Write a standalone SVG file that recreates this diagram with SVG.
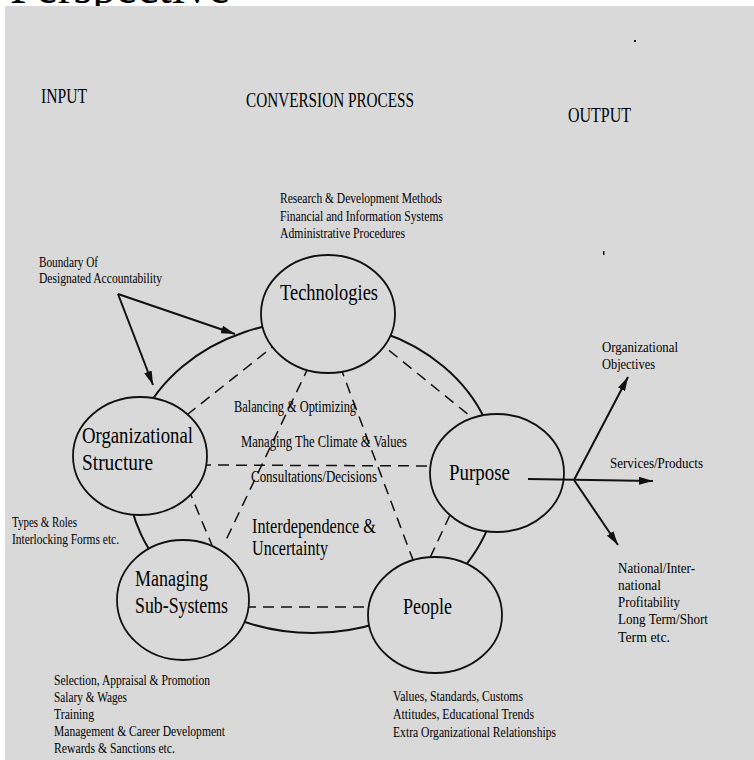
<svg xmlns="http://www.w3.org/2000/svg" width="754" height="760" viewBox="0 0 754 760">
<style>
  .bg{fill:#d9d9d9}
  .t{font-family:"Liberation Serif","DejaVu Serif",serif;fill:#000}
  .lbl{font-size:14px}
  .mid{font-size:16px}
  .big{font-size:20px}
  .node{font-size:23px}
  .hdr{font-size:21px}
  .nodeshape{fill:#d9d9d9;stroke:#111;stroke-width:1.8}
  .dash{stroke:#111;stroke-width:1.5;stroke-dasharray:11 7;fill:none}
  .arrow{stroke:#111;stroke-width:2;fill:none;marker-end:url(#ah)}
</style>
<defs>
  <marker id="ah" viewBox="0 0 14 8" refX="14" refY="4" markerWidth="14" markerHeight="8" markerUnits="userSpaceOnUse" orient="auto">
    <path d="M0,0 L14,4 L0,8 z" fill="#111"/>
  </marker>
</defs>
<rect x="0" y="0" width="754" height="760" fill="#ffffff"/>
<text class="t" x="10" y="3" font-size="48" textLength="220" lengthAdjust="spacingAndGlyphs">Perspective</text>
<rect class="bg" x="5" y="6" width="749" height="754"/>
<rect x="634" y="40" width="2" height="2" fill="#111"/>
<rect x="603" y="251" width="1.5" height="4" fill="#111"/>

<g id="headers">
  <text class="t hdr" x="41" y="103" textLength="46" lengthAdjust="spacingAndGlyphs">INPUT</text>
  <text class="t hdr" x="246" y="107" textLength="168" lengthAdjust="spacingAndGlyphs">CONVERSION PROCESS</text>
  <text class="t hdr" x="568" y="122" textLength="63" lengthAdjust="spacingAndGlyphs">OUTPUT</text>
</g>

<g id="boundary">
  <ellipse cx="313" cy="477" rx="185" ry="156" fill="none" stroke="#111" stroke-width="2"/>
</g>

<g id="connectors">
  <line class="dash" x1="280" y1="341" x2="183" y2="418"/>
  <line class="dash" x1="375" y1="339" x2="475" y2="420"/>
  <line class="dash" x1="309" y1="366" x2="226" y2="540"/>
  <line class="dash" x1="340" y1="366" x2="416" y2="568"/>
  <line class="dash" x1="200" y1="465" x2="440" y2="466"/>
  <line class="dash" x1="188" y1="488" x2="214" y2="550"/>
  <line class="dash" x1="450" y1="515" x2="428" y2="562"/>
  <line class="dash" x1="245" y1="607" x2="375" y2="607"/>
</g>

<g id="technologies">
  <ellipse class="nodeshape" cx="328" cy="314" rx="67" ry="59"/>
  <text class="t node" x="280" y="300" textLength="98" lengthAdjust="spacingAndGlyphs">Technologies</text>
</g>
<g id="organizational-structure">
  <ellipse class="nodeshape" cx="140" cy="456" rx="67" ry="59"/>
  <text class="t node" x="82" y="443" textLength="111" lengthAdjust="spacingAndGlyphs">Organizational</text>
  <text class="t node" x="82" y="470" textLength="71" lengthAdjust="spacingAndGlyphs">Structure</text>
</g>
<g id="purpose">
  <ellipse class="nodeshape" cx="497" cy="473" rx="67" ry="59"/>
  <text class="t node" x="449" y="480" textLength="61" lengthAdjust="spacingAndGlyphs">Purpose</text>
</g>
<g id="managing-sub-systems">
  <ellipse class="nodeshape" cx="183" cy="600" rx="66" ry="60"/>
  <text class="t node" x="135" y="586" textLength="73" lengthAdjust="spacingAndGlyphs">Managing</text>
  <text class="t node" x="135" y="613" textLength="93" lengthAdjust="spacingAndGlyphs">Sub-Systems</text>
</g>
<g id="people">
  <ellipse class="nodeshape" cx="435" cy="615" rx="67" ry="58"/>
  <text class="t node" x="403" y="614" textLength="49" lengthAdjust="spacingAndGlyphs">People</text>
</g>

<g id="center-labels">
  <text class="t mid" x="234" y="412" textLength="122" lengthAdjust="spacingAndGlyphs">Balancing &amp; Optimizing</text>
  <text class="t mid" x="241" y="447" textLength="166" lengthAdjust="spacingAndGlyphs">Managing The Climate &amp; Values</text>
  <text class="t mid" x="251" y="482" textLength="126" lengthAdjust="spacingAndGlyphs">Consultations/Decisions</text>
  <text class="t big" x="252" y="533" textLength="124" lengthAdjust="spacingAndGlyphs">Interdependence &amp;</text>
  <text class="t big" x="252" y="555" textLength="76" lengthAdjust="spacingAndGlyphs">Uncertainty</text>
</g>

<g id="arrows">
  <line class="arrow" x1="118" y1="294" x2="235" y2="334"/>
  <line class="arrow" x1="118" y1="294" x2="153" y2="385"/>
  <line class="arrow" x1="528" y1="479" x2="653" y2="481"/>
  <line class="arrow" x1="574" y1="480" x2="628" y2="377"/>
  <line class="arrow" x1="574" y1="480" x2="618" y2="545"/>
</g>

<g id="labels">
  <text class="t lbl" x="280" y="203" textLength="162" lengthAdjust="spacingAndGlyphs">Research &amp; Development Methods</text>
  <text class="t lbl" x="280" y="221" textLength="163" lengthAdjust="spacingAndGlyphs">Financial and Information Systems</text>
  <text class="t lbl" x="280" y="238" textLength="125" lengthAdjust="spacingAndGlyphs">Administrative Procedures</text>
  <text class="t lbl" x="39" y="267" textLength="59" lengthAdjust="spacingAndGlyphs">Boundary Of</text>
  <text class="t lbl" x="39" y="283" textLength="123" lengthAdjust="spacingAndGlyphs">Designated Accountability</text>
  <text class="t lbl" x="602" y="352" textLength="76" lengthAdjust="spacingAndGlyphs">Organizational</text>
  <text class="t lbl" x="602" y="369" textLength="53" lengthAdjust="spacingAndGlyphs">Objectives</text>
  <text class="t lbl" x="610" y="468" textLength="93" lengthAdjust="spacingAndGlyphs">Services/Products</text>
  <text class="t lbl" x="12" y="527" textLength="65" lengthAdjust="spacingAndGlyphs">Types &amp; Roles</text>
  <text class="t lbl" x="12" y="544" textLength="107" lengthAdjust="spacingAndGlyphs">Interlocking Forms etc.</text>
  <text class="t lbl" x="618" y="573" textLength="77" lengthAdjust="spacingAndGlyphs">National/Inter-</text>
  <text class="t lbl" x="618" y="590" textLength="43" lengthAdjust="spacingAndGlyphs">national</text>
  <text class="t lbl" x="618" y="607" textLength="62" lengthAdjust="spacingAndGlyphs">Profitability</text>
  <text class="t lbl" x="618" y="624" textLength="90" lengthAdjust="spacingAndGlyphs">Long Term/Short</text>
  <text class="t lbl" x="618" y="642" textLength="52" lengthAdjust="spacingAndGlyphs">Term etc.</text>
  <text class="t lbl" x="54" y="685" textLength="156" lengthAdjust="spacingAndGlyphs">Selection, Appraisal &amp; Promotion</text>
  <text class="t lbl" x="54" y="702" textLength="73" lengthAdjust="spacingAndGlyphs">Salary &amp; Wages</text>
  <text class="t lbl" x="54" y="719" textLength="40" lengthAdjust="spacingAndGlyphs">Training</text>
  <text class="t lbl" x="54" y="736" textLength="171" lengthAdjust="spacingAndGlyphs">Management &amp; Career Development</text>
  <text class="t lbl" x="54" y="753" textLength="121" lengthAdjust="spacingAndGlyphs">Rewards &amp; Sanctions etc.</text>
  <text class="t lbl" x="393" y="701" textLength="130" lengthAdjust="spacingAndGlyphs">Values, Standards, Customs</text>
  <text class="t lbl" x="393" y="719" textLength="141" lengthAdjust="spacingAndGlyphs">Attitudes, Educational Trends</text>
  <text class="t lbl" x="393" y="737" textLength="163" lengthAdjust="spacingAndGlyphs">Extra Organizational Relationships</text>
</g>
</svg>
